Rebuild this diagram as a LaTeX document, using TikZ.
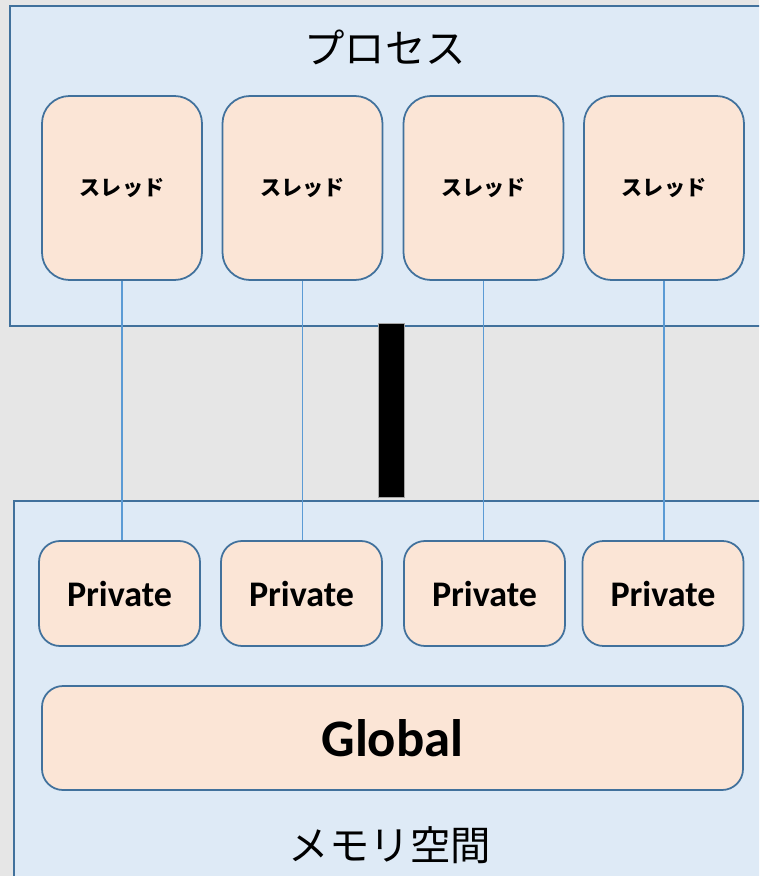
\documentclass[tikz,border=0pt]{standalone}
\usepackage{fontspec}
\setmainfont{Carlito}
\newfontfamily\jpfont{Noto Sans CJK JP}
\usepackage{xcolor}
\usepackage{tikz}
\usetikzlibrary{calc}

\definecolor{bgGray}{HTML}{E6E6E6}
\definecolor{boxBlue}{HTML}{DEEAF6}
\definecolor{edgeBlue}{HTML}{41719C}
\definecolor{fillPeach}{HTML}{FBE5D6}
\definecolor{wireBlue}{HTML}{5B9BD5}

\tikzset{
  area/.style={draw=edgeBlue, fill=boxBlue, line width=1.2pt},
  thread/.style={draw=edgeBlue, fill=fillPeach, line width=1pt, rounded corners=0.55cm,
    minimum width=3.2cm, minimum height=3.68cm, font=\jpfont\bfseries\fontsize{12}{14}\selectfont},
  priv/.style={draw=edgeBlue, fill=fillPeach, line width=1pt, rounded corners=0.42cm,
    minimum width=3.22cm, minimum height=2.1cm, font=\bfseries\fontsize{20.5}{24}\selectfont},
  wire/.style={wireBlue, line width=0.6pt}
}

\begin{document}
\begin{tikzpicture}
  \useasboundingbox (0,0) rectangle (15.18,-17.52);
  \clip (0,0) rectangle (15.18,-17.52);
  \fill[bgGray] (0,0) rectangle (15.18,-17.52);
  % process and memory areas
  \draw[area] (0.2,-0.12) rectangle (16,-6.52);
  \draw[area] (0.28,-10.02) rectangle (16,-18);
  \node[font=\jpfont\fontsize{23}{27}\selectfont] (proc) at (7.7,-0.94) {プロセス};
  \node[font=\jpfont\fontsize{23}{27}\selectfont] (mem) at (7.8,-16.9) {メモリ空間};
  % threads
  \node[thread] (t1) at (2.44,-3.76) {スレッド};
  \node[thread] (t2) at (6.05,-3.76) {スレッド};
  \node[thread] (t3) at (9.67,-3.76) {スレッド};
  \node[thread] (t4) at (13.28,-3.76) {スレッド};
  % private memory
  \node[priv] (p1) at (2.39,-11.87) {Private};
  \node[priv] (p2) at (6.03,-11.87) {Private};
  \node[priv] (p3) at (9.69,-11.87) {Private};
  \node[priv] (p4) at (13.26,-11.87) {Private};
  \node[draw=edgeBlue, fill=fillPeach, line width=1pt, rounded corners=0.42cm,
    minimum width=14.02cm, minimum height=2.08cm,
    font=\bfseries\fontsize{30}{36}\selectfont] (glob) at (7.85,-14.76) {Global};
  % links
  \foreach \i in {1,2,3,4}
    \draw[wire] (t\i.south) -- (t\i.south |- p\i.north);
  \draw[fill=black, draw=gray!70, line width=0.4pt] (7.56,-6.46) rectangle (8.08,-9.94);
\end{tikzpicture}
\end{document}
